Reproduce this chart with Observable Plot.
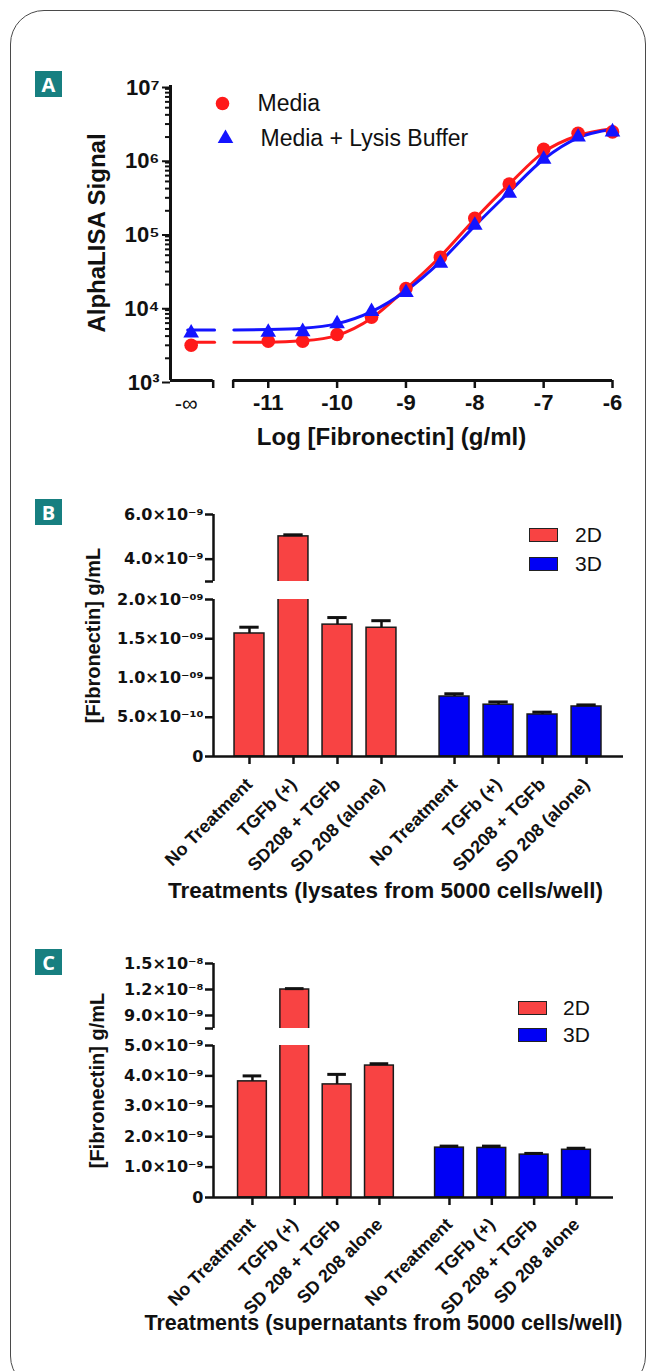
<!DOCTYPE html>
<html>
<head>
<meta charset="utf-8">
<script src="https://cdn.jsdelivr.net/npm/d3@7"></script>
<script src="https://cdn.jsdelivr.net/npm/@observablehq/plot@0.6"></script>
<style>
  html, body { margin: 0; padding: 0; background: #fff; }
  #page { position: relative; width: 656px; height: 1371px; overflow: hidden; font-family: "Liberation Sans", Arial, sans-serif; }
  #card { position: absolute; left: 10px; top: 10px; width: 636px; height: 1380px; border: 1.5px solid #4a4a4a; border-radius: 34px; box-sizing: border-box; }
  .tag { position: absolute; left: 35px; width: 27px; height: 26px; background: #177f80; color: #fff; font: bold 20px "Open Sans", "Liberation Sans", sans-serif; display: flex; align-items: center; justify-content: center; }
  .panel { position: absolute; left: 0; }
  .lg-box { position: absolute; width: 29px; height: 14px; border: 1.5px solid #222; box-sizing: border-box; }
  .lg-text { position: absolute; font: 21px "Liberation Sans", Arial, sans-serif; color: #111; line-height: 20px; }
</style>
</head>
<body>
<div id="page">
  <div id="card"></div>
  <div class="tag" style="top:71px">A</div>
  <div class="tag" style="top:499px">B</div>
  <div class="tag" style="top:949px">C</div>
  <div id="pA" class="panel" style="top:0px"></div>
  <div id="pB" class="panel" style="top:480px"></div>
  <div id="pC" class="panel" style="top:935px"></div>
</div>
<script>
// ---------------- Panel A data ----------------
const concLog = ["-∞", -11, -10.5, -10, -9.5, -9, -8.5, -8, -7.5, -7, -6.5, -6];
const mediaSignal = [3.0e3, 3.4e3, 3.4e3, 4.2e3, 7.2e3, 1.77e4, 4.7e4, 1.58e5, 4.6e5, 1.36e6, 2.25e6, 2.35e6];
const lysisSignal = [4.4e3, 4.5e3, 4.6e3, 5.9e3, 8.6e3, 1.56e4, 3.9e4, 1.27e5, 3.45e5, 1.0e6, 2.0e6, 2.35e6];
const seriesA = ["Media", "Media + Lysis Buffer"];
// fitted curves
const fitLog = [-11.5, -11, -10.5, -10, -9.5, -9, -8.5, -8, -7.5, -7, -6.5, -6];
const fitMedia = [3.3e3, 3.3e3, 3.45e3, 4.1e3, 7.0e3, 1.75e4, 4.8e4, 1.55e5, 4.6e5, 1.25e6, 2.1e6, 2.6e6];
const fitLysis = [4.85e3, 4.9e3, 5.1e3, 5.9e3, 8.6e3, 1.65e4, 4.1e4, 1.25e5, 3.6e5, 1.0e6, 1.95e6, 2.55e6];
const fitFloorA = [3.3e3, 4.85e3];
const xTicksA = [-11, -10, -9, -8, -7, -6];
const xTickLabelsA = ["-11", "-10", "-9", "-8", "-7", "-6"];
const yTicksA = [1e3, 1e4, 1e5, 1e6, 1e7];
const yTickLabelsA = ["10³", "10⁴", "10⁵", "10⁶", "10⁷"];

// ---------------- Panel B data ----------------
const cultures = ["2D", "3D"];
const treatmentsB = ["No Treatment", "TGFb (+)", "SD208 + TGFb", "SD 208 (alone)"];
const lysate2D = [1.567e-9, 5.02e-9, 1.68e-9, 1.64e-9];
const lysate2DErr = [0.08e-9, 0.07e-9, 0.09e-9, 0.09e-9];
const lysate3D = [0.764e-9, 0.66e-9, 0.535e-9, 0.637e-9];
const lysate3DErr = [0.035e-9, 0.035e-9, 0.03e-9, 0.02e-9];
const yTicksB = [0, 5e-10, 1e-9, 1.5e-9, 2e-9, 4e-9, 6e-9];
const yTickLabelsB = ["0", "5.0×10⁻¹⁰", "1.0×10⁻⁰⁹", "1.5×10⁻⁰⁹", "2.0×10⁻⁰⁹", "4.0×10⁻⁹", "6.0×10⁻⁹"];
const yBreakB = [0, 2e-9, 3e-9, 6e-9];

// ---------------- Panel C data ----------------
const treatmentsC = ["No Treatment", "TGFb (+)", "SD 208 + TGFb", "SD 208 alone"];
const super2D = [3.82e-9, 1.20e-8, 3.72e-9, 4.34e-9];
const super2DErr = [0.18e-9, 0.1e-9, 0.33e-9, 0.06e-9];
const super3D = [1.64e-9, 1.63e-9, 1.41e-9, 1.57e-9];
const super3DErr = [0.05e-9, 0.06e-9, 0.04e-9, 0.05e-9];
const yTicksC = [0, 1e-9, 2e-9, 3e-9, 4e-9, 5e-9, 9e-9, 1.2e-8, 1.5e-8];
const yTickLabelsC = ["0", "1.0×10⁻⁹", "2.0×10⁻⁹", "3.0×10⁻⁹", "4.0×10⁻⁹", "5.0×10⁻⁹", "9.0×10⁻⁹", "1.2×10⁻⁸", "1.5×10⁻⁸"];
const yBreakC = [0, 5e-9, 7.5e-9, 1.5e-8];

const RED_PT = "#ff1a1a", BLUE_PT = "#1414ff";
const cultureColor = {"2D": "#f84343", "3D": "#0000f5"};
const FONT = '"Liberation Sans", Arial, sans-serif';
const TICKFONT = '"DejaVu Sans", Verdana, sans-serif';

// ---------------- Panel A ----------------
(function () {
  const X_INF = -12.12, X_MIN = -12.42, X_MAX = -6;
  const BRK1 = -11.8, BRK2 = -11.51, STUB = [-12.17, -11.78];
  const pxPerUnit = (656 - 170 - 44) / (X_MAX - X_MIN);
  const xPos = c => c === "-∞" ? X_INF : c;
  const values = [mediaSignal, lysisSignal];
  const fits = [fitMedia, fitLysis];
  const pts = seriesA.map((s, k) => concLog.map((c, i) => ({series: s, x: xPos(c), y: values[k][i]})));
  const stubs = seriesA.map((s, k) => STUB.map(x => ({x, y: fitFloorA[k]})));
  const curves = seriesA.map((s, k) => fitLog.map((x, i) => ({x, y: fits[k][i]})));
  const minors = [];
  for (let e = 3; e < 7; e++) for (let m = 2; m <= 9; m++) minors.push(m * 10 ** e);
  const lineColor = [RED_PT, BLUE_PT];

  const svg = Plot.plot({
    width: 656, height: 460,
    marginLeft: 170, marginRight: 44, marginTop: 85, marginBottom: 80,
    style: {fontFamily: FONT, color: "#111", background: "transparent", overflow: "visible"},
    x: {type: "linear", domain: [X_MIN, X_MAX]},
    y: {type: "log", domain: [1e3, 1e7]},
    marks: [
      Plot.ruleX([X_MIN], {y1: 1e3, y2: 1e7, stroke: "#111", strokeWidth: 3}),
      Plot.ruleY([[X_MIN, BRK1], [BRK2, X_MAX]], {x1: d => d[0], x2: d => d[1], y: () => 1e3, stroke: "#111", strokeWidth: 3}),
      Plot.axisY({ticks: minors, tickSize: 5, tickFormat: () => "", strokeWidth: 2, label: null}),
      Plot.axisY({ticks: yTicksA, tickSize: 8, tickPadding: 3, strokeWidth: 2, label: null,
        tickFormat: d => yTickLabelsA[yTicksA.indexOf(d)], fontSize: 22, fontWeight: "bold", dy: 2}),
      Plot.axisX({ticks: xTicksA, tickSize: 8, tickPadding: 6, strokeWidth: 2.5, label: null,
        tickFormat: d => xTickLabelsA[xTicksA.indexOf(d)], fontSize: 22, fontWeight: "bold"}),
      Plot.axisX({ticks: [BRK1, BRK2], tickSize: 8, tickFormat: () => "", strokeWidth: 2.5, label: null}),
      Plot.axisX({ticks: [X_INF], tickSize: 0, tickPadding: 15, tickFormat: () => "-∞", fontSize: 22, dx: -5, label: null}),
      ...[0, 1].map(k => Plot.line(stubs[k], {x: "x", y: "y", stroke: lineColor[k], strokeWidth: 3})),
      ...[0, 1].map(k => Plot.line(curves[k], {x: "x", y: "y", stroke: lineColor[k], strokeWidth: 3, curve: "monotone-x"})),
      Plot.dot(pts[0], {x: "x", y: "y", r: 6.8, fill: RED_PT, symbol: "circle"}),
      Plot.dot(pts[1], {x: "x", y: "y", r: 5.8, fill: BLUE_PT, symbol: "triangle"}),
      Plot.dot([seriesA[0]], {frameAnchor: "top-left", dx: 52, dy: 18, r: 6.8, fill: RED_PT, symbol: "circle"}),
      Plot.dot([seriesA[1]], {frameAnchor: "top-left", dx: 55, dy: 53, r: 5.8, fill: BLUE_PT, symbol: "triangle"}),
      Plot.text([seriesA[0]], {text: d => d, frameAnchor: "top-left", dx: 87, dy: 18, textAnchor: "start", lineAnchor: "middle", fontSize: 23, fill: "#111"}),
      Plot.text([seriesA[1]], {text: d => d, frameAnchor: "top-left", dx: 90, dy: 53, textAnchor: "start", lineAnchor: "middle", fontSize: 23, fill: "#111"}),
      Plot.text(["AlphaLISA Signal"], {text: d => d, x: () => X_MIN - 73 / pxPerUnit, frameAnchor: "middle",
        rotate: -90, textAnchor: "middle", lineAnchor: "middle", fontSize: 24, fontWeight: "bold", fill: "#111"}),
      Plot.text(["Log [Fibronectin] (g/ml)"], {text: d => d, frameAnchor: "bottom", dy: 57, textAnchor: "middle", lineAnchor: "middle", fontSize: 24, fontWeight: "bold", fill: "#111"})
    ]
  });
  document.getElementById("pA").appendChild(svg);
})();

// ---------------- Bar panels ----------------
function barPanel(el, cfg) {
  const vals = [cfg.v2D, cfg.v3D], errs = [cfg.e2D, cfg.e3D];
  const rows = cultures.flatMap((c, g) => cfg.treatments.map((t, i) => ({
    culture: c, name: t, slot: i + g * cfg.groupOffset, value: vals[g][i], err: errs[g][i]
  })));
  const [x0, x1] = cfg.xDomain;
  const pxPerSlot = (656 - 213 - cfg.marginRight) / (x1 - x0);
  const yd = cfg.yDomain;
  const svg = Plot.plot({
    width: 656, height: cfg.height,
    marginLeft: 213, marginRight: cfg.marginRight, marginTop: cfg.yRange[3], marginBottom: cfg.height - cfg.yRange[0],
    style: {fontFamily: FONT, color: "#111", background: "transparent", overflow: "visible"},
    x: {type: "linear", domain: cfg.xDomain},
    y: {type: "linear", domain: yd, range: cfg.yRange},
    marks: [
      Plot.rect(rows, {x1: d => d.slot - 0.34, x2: d => d.slot + 0.34, y1: () => 0, y2: "value",
        fill: d => cultureColor[d.culture], stroke: "#1a1a1a", strokeWidth: 1.5}),
      Plot.ruleX(rows, {x: "slot", y1: "value", y2: d => d.value + d.err, stroke: "#111", strokeWidth: 2.5}),
      Plot.ruleY(rows, {y: d => d.value + d.err, x1: d => d.slot - 0.22, x2: d => d.slot + 0.22, stroke: "#111", strokeWidth: 3}),
      Plot.rect([0], {x1: () => x0 + 0.05, x2: () => x1, y1: () => yd[1], y2: () => yd[2], fill: "white"}),
      Plot.ruleX([[yd[0], yd[1]], [yd[2], yd[3]]], {x: () => x0, y1: d => d[0], y2: d => d[1], stroke: "#111", strokeWidth: 2.5}),
      Plot.ruleY([0], {x1: () => x0, x2: () => x1, y: () => 0, stroke: "#111", strokeWidth: 2.5}),
      Plot.axisY({ticks: cfg.yTicks, tickSize: 8, tickPadding: 2, strokeWidth: 2.5, label: null,
        tickFormat: d => cfg.yTickLabels[cfg.yTicks.indexOf(d)],
        fontFamily: TICKFONT, fontSize: 16, fontWeight: "bold"}),
      Plot.axisY({ticks: [yd[2]], tickSize: 8, tickFormat: () => "", strokeWidth: 2.5, label: null}),
      Plot.axisX({ticks: rows.map(d => d.slot), tickSize: 8, tickFormat: () => "", strokeWidth: 2.5, label: null}),
      Plot.text(rows, {x: "slot", text: "name", frameAnchor: "bottom", rotate: -45, textAnchor: "end", lineAnchor: "middle",
        dx: 0, dy: cfg.labelDy, fontSize: 18, fontWeight: "bold", fill: "#111"}),
      Plot.text([cfg.xTitle], {text: d => d, frameAnchor: "bottom", dx: cfg.xTitleDx, dy: cfg.xTitleDy,
        textAnchor: "middle", lineAnchor: "middle", fontSize: cfg.xTitleSize, fontWeight: "bold", fill: "#111"}),
      Plot.text(["[Fibronectin] g/mL"], {text: d => d, x: () => x0 + cfg.yTitleDx / pxPerSlot, frameAnchor: "middle",
        rotate: -90, textAnchor: "middle", lineAnchor: "middle", fontSize: 20, fontWeight: "bold", fill: "#111"})
    ]
  });
  el.appendChild(svg);
  cultures.forEach((c, g) => {
    const box = document.createElement("div");
    box.className = "lg-box";
    box.style.left = cfg.legend.x + "px";
    box.style.top = (cfg.legend.y + g * cfg.legend.step) + "px";
    box.style.background = cultureColor[c];
    el.appendChild(box);
    const t = document.createElement("div");
    t.className = "lg-text";
    t.textContent = c;
    t.style.left = (cfg.legend.x + cfg.legend.textDx) + "px";
    t.style.top = (cfg.legend.y + g * cfg.legend.step - 3) + "px";
    el.appendChild(t);
  });
}

barPanel(document.getElementById("pB"), {
  treatments: treatmentsB, v2D: lysate2D, e2D: lysate2DErr, v3D: lysate3D, e3D: lysate3DErr,
  groupOffset: 4.66, xDomain: [-0.818, 8.5], marginRight: 33,
  height: 440, yDomain: yBreakB, yRange: [276, 119, 101, 34],
  yTicks: yTicksB, yTickLabels: yTickLabelsB,
  labelDy: 25, xTitle: "Treatments (lysates from 5000 cells/well)", xTitleSize: 22.5, xTitleDx: -33, xTitleDy: 134, yTitleDx: -120,
  legend: {x: 529, y: 48, step: 29, textDx: 46}
});

barPanel(document.getElementById("pC"), {
  treatments: treatmentsC, v2D: super2D, e2D: super2DErr, v3D: super3D, e3D: super3DErr,
  groupOffset: 4.655, xDomain: [-0.92, 8.53], marginRight: 43,
  height: 436, yDomain: yBreakC, yRange: [262, 110, 93, 28],
  yTicks: yTicksC, yTickLabels: yTickLabelsC,
  labelDy: 24, xTitle: "Treatments (supernatants from 5000 cells/well)", xTitleSize: 21.5, xTitleDx: -30, xTitleDy: 126, yTitleDx: -116,
  legend: {x: 518, y: 66, step: 27, textDx: 45}
});
</script>
</body>
</html>
